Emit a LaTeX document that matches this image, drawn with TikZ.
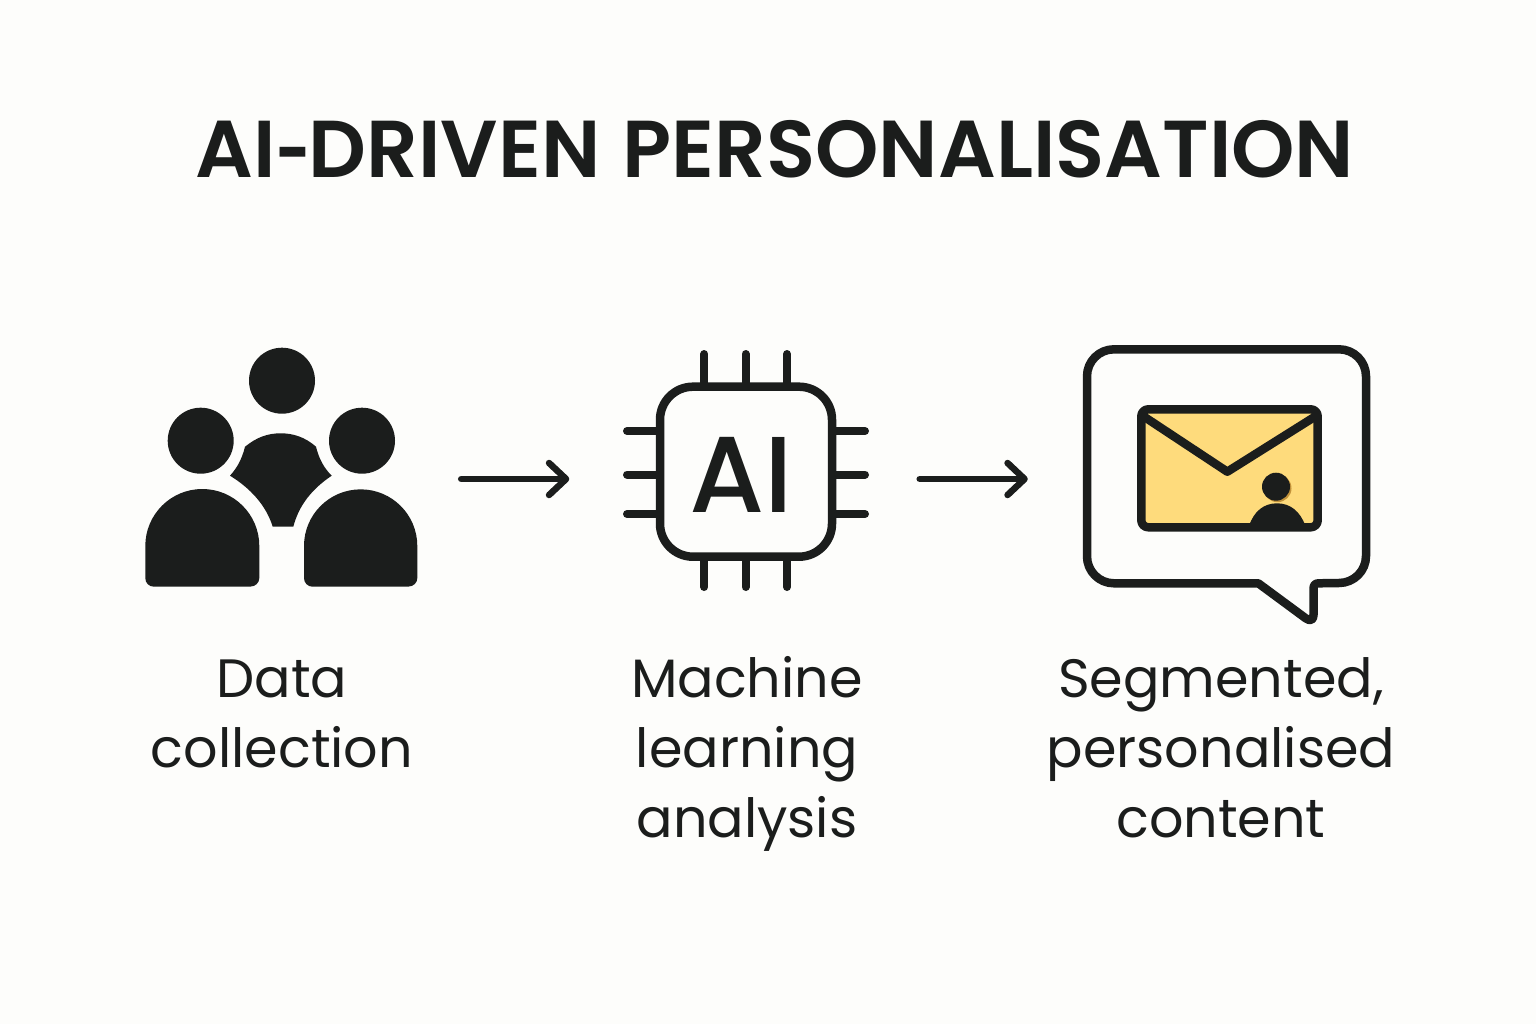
\documentclass[tikz,border=0pt]{standalone}
\usepackage{fontspec}
\setmainfont{Poppins}
\newfontfamily\titlefont{Poppins}[UprightFont=* SemiBold]
\newfontfamily\chipfont{Poppins}[UprightFont=* Medium]
\newfontfamily\hyphenfont{Fira Sans}[UprightFont=* Bold]
\usetikzlibrary{arrows.meta}
\definecolor{ink}{HTML}{1B1D1C}
\definecolor{paper}{HTML}{FDFDFB}
\definecolor{mail}{HTML}{FEDB7C}
\definecolor{mailshade}{HTML}{C2923A}
\tikzset{
  x=1pt,y=-1pt,
  iconbox/.style={inner sep=0pt,minimum height=240pt},
  outline/.style={draw=ink,line width=8.5pt,line join=round,line cap=round},
  pin/.style={draw=ink,line width=8pt,line cap=round},
  flow/.style={draw=ink,line width=6.5pt,line cap=round,line join=round,
    -{Straight Barb[length=17pt,width=32pt,round]}},
  caption/.style={font=\fontsize{54}{70}\selectfont,text=ink,align=center,inner sep=0pt,anchor=base},
}
\begin{document}
\begin{tikzpicture}
\useasboundingbox (0,0) rectangle (1536,1024);
\fill[paper] (0,0) rectangle (1536,1024);
\node[anchor=base,inner sep=0pt,text=ink] (title) at (775,178)
  {\fontsize{80.7}{90}\titlefont AI{\hyphenfont -}DRIVEN\kern3pt{} PERSONALISATION};

% people icon
\node[iconbox,minimum width=272pt] (people) at (281,479) {};
\fill[ink] (282,380.7) circle[radius=33pt];
\fill[ink] (200.7,440.7) circle[radius=33pt];
\fill[ink] (362,440.7) circle[radius=33pt];
\fill[ink] (145.3,546) arc[start angle=180,end angle=0,radius=57pt] -- (259.3,578)
  arc[start angle=0,end angle=-90,radius=8.5pt] -- (153.8,586.7)
  arc[start angle=-90,end angle=-180,radius=8.5pt] -- cycle;
\fill[ink] (304,546) arc[start angle=180,end angle=0,radius=56.65pt] -- (417.3,578)
  arc[start angle=0,end angle=-90,radius=8.5pt] -- (312.5,586.7)
  arc[start angle=-90,end angle=-180,radius=8.5pt] -- cycle;
\fill[ink] (245,446.7) .. controls (257,437) and (268,433.3) .. (280.7,433.3)
  .. controls (293,433.3) and (305,437) .. (316,446.7)
  .. controls (319,459) and (324,468) .. (331.7,475.7)
  .. controls (312,489) and (299,505) .. (293.3,526.7)
  -- (272.7,526.7)
  .. controls (266,505) and (250,488) .. (230,475.7)
  .. controls (237,468) and (242,459) .. (245,446.7) -- cycle;

% chip icon
\node[iconbox,minimum width=245pt] (chip) at (746,479) {};
\foreach \px in {704.3,745.5,787}{
  \draw[pin] (\px,354) -- (\px,386);
  \draw[pin] (\px,556) -- (\px,587);
}
\foreach \py in {431,474.5,514}{
  \draw[pin] (627,\py) -- (660,\py);
  \draw[pin] (832,\py) -- (865,\py);
}
\draw[outline,fill=paper,rounded corners=33pt] (660,386.7) rectangle (832,556.7);
\node[inner sep=0pt,text=ink,anchor=base] (chiplabel) at (741.5,512.7)
  {\fontsize{108}{114}\chipfont AI};

% message icon
\node[iconbox,minimum width=288pt] (bubble) at (1226,479) {};
\draw[outline] (1114,349.3) -- (1339,349.3)
  arc[start angle=90,end angle=0,radius=27pt] -- (1366,556)
  arc[start angle=0,end angle=-90,radius=27pt] -- (1319,583.3)
  .. controls (1315,583.3) and (1313.5,585) .. (1313.5,589)
  -- (1313.5,615) .. controls (1313.5,620) and (1310,621.5) .. (1306,618.5)
  -- (1258.3,583.3) -- (1114,583.3)
  arc[start angle=-90,end angle=-180,radius=27pt] -- (1087,376.3)
  arc[start angle=180,end angle=90,radius=27pt] -- cycle;
\begin{scope}
  \path[fill=mail,rounded corners=7pt] (1141.3,409.3) rectangle (1317.7,527.3);
  \clip[rounded corners=7pt] (1141.3,409.3) rectangle (1317.7,527.3);
  \fill[mailshade] (1277.5,488.2) circle[radius=14pt];
  \fill[ink] (1276,486.7) circle[radius=14pt];
  \fill[ink] (1249,526) .. controls (1254,511) and (1264,503.3) .. (1277,503.3)
    .. controls (1290,503.3) and (1300,511) .. (1305.5,526) -- cycle;
\end{scope}
\draw[outline] (1143,416) -- (1227.3,471.7) -- (1316,416);
\draw[outline,rounded corners=7pt] (1141.3,409.3) rectangle (1317.7,527.3);

% connectors
\draw[flow,shorten <=44pt,shorten >=54pt] (people.east) -- (chip.west);
\draw[flow,shorten <=51pt,shorten >=54pt] (chip.east) -- (bubble.west);

% captions
\node[caption] (cap1) at (282,767) {Data\\collection};
\node[caption] (cap2) at (747,837) {Machine\\learning\\analysis};
\node[caption] (cap3) at (1221,837) {Segmented,\\personalised\\content};
\end{tikzpicture}
\end{document}
